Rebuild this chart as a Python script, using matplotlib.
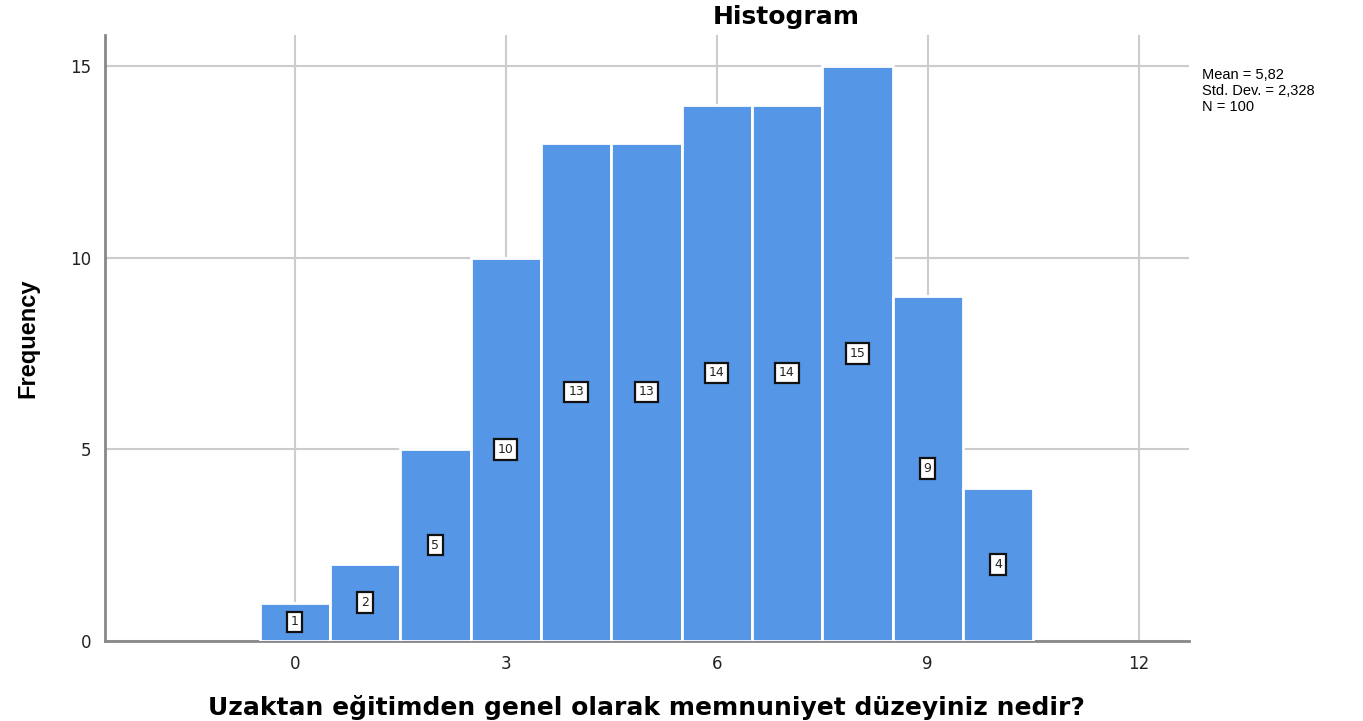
import matplotlib
matplotlib.use("Agg")
import matplotlib.pyplot as plt

# satisfaction scores and their frequencies
scores = [0, 1, 2, 3, 4, 5, 6, 7, 8, 9, 10]
counts = [1, 2, 5, 10, 13, 13, 14, 14, 15, 9, 4]
x_ticks = [0, 3, 6, 9, 12]
y_ticks = [0, 5, 10, 15]
stats_text = "Mean = 5,82\nStd. Dev. = 2,328\nN = 100"

plt.rcParams['font.family'] = ['DejaVu Sans']

fig = plt.figure(figsize=(13.63, 7.21), dpi=100)
ax = fig.add_axes([0.077, 0.111, 0.795, 0.840])

ax.bar(scores, counts, width=1.0, color='#5596E6', edgecolor='white',
       linewidth=2, zorder=3)
for s, c in zip(scores, counts):
    ax.text(s, c / 2, str(c), ha='center', va='center', fontsize=9,
            color='#222222', zorder=4,
            bbox=dict(boxstyle='square,pad=0.3', facecolor='white',
                      edgecolor='#111111', linewidth=1.6))

ax.set_xlim(-2.7, 12.71)
ax.set_ylim(0, 15.81)
ax.set_xticks(x_ticks)
ax.set_yticks(y_ticks)
ax.tick_params(length=0, labelsize=12, colors='#222222', pad=10)
ax.grid(True, color='#cccccc', linewidth=1.5, zorder=0)
for side in ['top', 'right']:
    ax.spines[side].set_visible(False)
for side in ['left', 'bottom']:
    ax.spines[side].set_color('#888888')
    ax.spines[side].set_linewidth(2)

ax.set_xlabel('Uzaktan eğitimden genel olarak memnuniyet düzeyiniz nedir?',
              fontsize=18, fontweight='bold', labelpad=16)
ax.set_ylabel('Frequency', fontsize=17, fontweight='bold', labelpad=22,
              family='Liberation Sans')
fig.text(0.577, 0.977, 'Histogram', ha='center', va='center',
         fontsize=18, fontweight='bold')
fig.text(0.882, 0.874, stats_text, ha='left', va='center', fontsize=10.5,
         linespacing=1.2, family='Liberation Sans')

fig.savefig('out.png', dpi=100)
